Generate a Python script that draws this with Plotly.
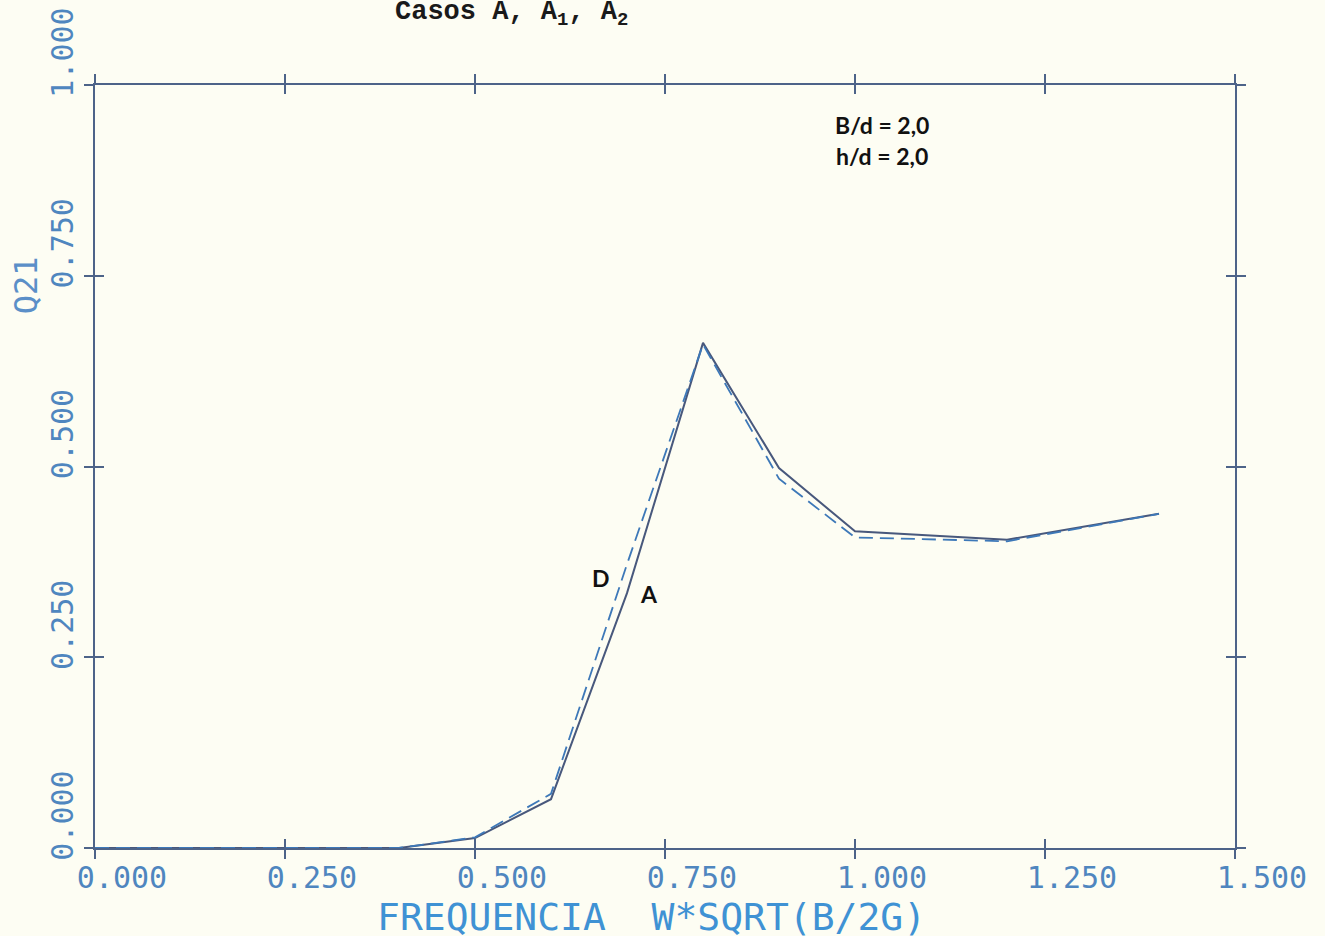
import plotly.graph_objects as go

# Frequency parameter W*SQRT(B/2G) and the Q21 response for the two cases
freq = [0.0, 0.1, 0.2, 0.3, 0.4, 0.5, 0.6, 0.7, 0.8, 0.9, 1.0, 1.2, 1.4]
q21_a = [0.0, 0.0, 0.0, 0.0, 0.0, 0.013, 0.064, 0.334, 0.662, 0.498, 0.415, 0.404, 0.438]
q21_d = [0.0, 0.0, 0.0, 0.0, 0.0, 0.014, 0.071, 0.372, 0.660, 0.484, 0.407, 0.402, 0.438]

x_ticks = [0.0, 0.25, 0.5, 0.75, 1.0, 1.25, 1.5]
y_ticks = [0.0, 0.25, 0.5, 0.75, 1.0]
x_ticktext = ["0.000", "0.250", "0.500", "0.750", "1.000", "1.250", "1.500"]
y_ticktext = ["0.000", "0.250", "0.500", "0.750", "1.000"]

BG = "#fdfdf3"
FRAME = "#4d6388"
LABEL_BLUE = "#4f86bf"
MONO = "DejaVu Sans Mono"

fig = go.Figure()

fig.add_trace(go.Scatter(
    x=freq, y=q21_a, mode="lines", name="A",
    line=dict(color="#48587c", width=2),
    hoverinfo="x+y",
))
fig.add_trace(go.Scatter(
    x=freq, y=q21_d, mode="lines", name="D",
    line=dict(color="#3d78b8", width=1.8, dash="14px,7px"),
    hoverinfo="x+y",
))
# invisible trace so the overlay axes (inner half of the crossing ticks) get drawn
fig.add_trace(go.Scatter(
    x=[x_ticks[0]], y=[y_ticks[0]], xaxis="x2", yaxis="y2",
    mode="markers", marker=dict(opacity=0), hoverinfo="skip", showlegend=False,
))

axis_common = dict(
    showgrid=False, zeroline=False, tickcolor=FRAME, tickwidth=1.5, ticklen=9,
    automargin=False,
)

fig.update_layout(
    width=1325, height=936,
    margin=dict(l=95, r=90, t=85, b=88),
    paper_bgcolor=BG, plot_bgcolor=BG,
    showlegend=False,
    xaxis=dict(
        range=[0, 1.5], tickvals=x_ticks, ticktext=x_ticktext,
        ticks="outside", mirror="ticks", showline=True, linecolor=FRAME, linewidth=2,
        tickfont=dict(family=MONO, size=30, color=LABEL_BLUE),
        ticklabelshift=27, ticklabelstandoff=-7,
        **axis_common,
    ),
    yaxis=dict(
        range=[0, 1.0], tickvals=y_ticks, ticktext=y_ticktext,
        ticks="outside", mirror="ticks", showline=True, linecolor=FRAME, linewidth=2,
        tickangle=-90,
        tickfont=dict(family=MONO, size=30, color=LABEL_BLUE),
        ticklabelshift=-28, ticklabelstandoff=-1,
        **axis_common,
    ),
    xaxis2=dict(
        range=[0, 1.5], tickvals=x_ticks, overlaying="x", anchor="y2", side="bottom",
        ticks="inside", mirror="ticks", showline=False, showticklabels=False,
        **axis_common,
    ),
    yaxis2=dict(
        range=[0, 1.0], tickvals=y_ticks, overlaying="y", anchor="x2", side="left",
        ticks="inside", mirror="ticks", showline=False, showticklabels=False,
        **axis_common,
    ),
)

annotations = [
    # heading
    dict(text="Casos A, A<sub>1</sub>, A<sub>2</sub>", xref="paper", yref="paper",
         x=0.365, y=1.093, xanchor="center", yanchor="middle", showarrow=False,
         font=dict(family="Liberation Mono", size=27, color="#1a1a1a", weight="bold")),
    # axis titles
    dict(text="Q21", xref="paper", yref="paper", x=-0.061, y=0.738,
         xanchor="center", yanchor="middle", textangle=-90, showarrow=False,
         font=dict(family=MONO, size=32, color="#5b8fc8")),
    dict(text="FREQUENCIA  W*SQRT(B/2G)", xref="paper", yref="paper",
         x=0.488, y=-0.091, xanchor="center", yanchor="middle", showarrow=False,
         font=dict(family=MONO, size=38, color="#3f92d4")),
    # parameters
    dict(text="B/d = 2,0", x=1.036, y=0.948, xanchor="center", yanchor="middle",
         showarrow=False, font=dict(family="Lato", size=23, color="#111111", weight="bold")),
    dict(text="h/d = 2,0", x=1.036, y=0.907, xanchor="center", yanchor="middle",
         showarrow=False, font=dict(family="Lato", size=23, color="#111111", weight="bold")),
    # curve labels
    dict(text="D", x=0.666, y=0.354, xanchor="center", yanchor="middle",
         showarrow=False, font=dict(family="Lato", size=23, color="#111111", weight="bold")),
    dict(text="A", x=0.729, y=0.333, xanchor="center", yanchor="middle",
         showarrow=False, font=dict(family="Lato", size=23, color="#111111", weight="bold")),
]
fig.update_layout(annotations=annotations)

fig.write_html("out.html")
